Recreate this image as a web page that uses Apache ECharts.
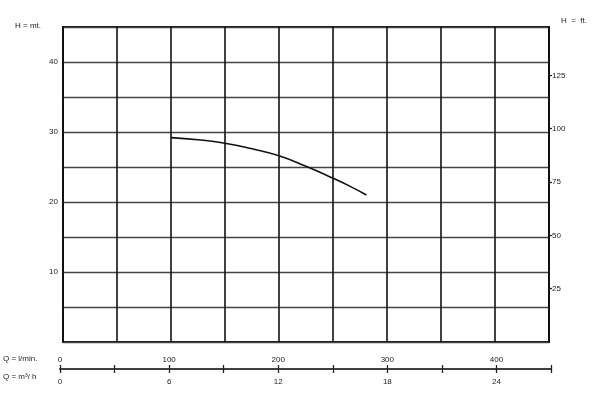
<!DOCTYPE html>
<html>
<head>
<meta charset="utf-8">
<script src="https://cdn.jsdelivr.net/npm/echarts@6/dist/echarts.min.js"></script>
<style>html,body{margin:0;padding:0;background:#fff}#c{width:600px;height:410px}</style>
</head>
<body>
<div id="c"></div>
<script>
// Data
const flowLmin = [100, 125, 150, 175, 200, 225, 250, 265, 281];
const headM    = [29.2, 28.9, 28.4, 27.6, 26.6, 25.1, 23.4, 22.3, 21.0];
const headTicksM = [10, 20, 30, 40];
const headTicksFt = [25, 50, 75, 100, 125];
const flowLabelsLmin = [0, 100, 200, 300, 400];
const flowLabelsM3h = [0, 6, 12, 18, 24];
const M_TO_FT = 3.28084;
const H_MAX = 45, Q_MAX = 450;

const font = 'Liberation Sans, Arial, sans-serif';
const chart = echarts.init(document.getElementById('c'), null, {renderer: 'canvas'});
chart.setOption({
  animation: false,
  backgroundColor: '#fff',
  textStyle: {fontFamily: font},
  grid: [
    {left: 63, right: 51, top: 27, bottom: 68, show: true, borderColor: '#111', borderWidth: 2, backgroundColor: 'transparent'},
    {left: 60, right: 49, top: 369, height: 0}
  ],
  xAxis: [
    {gridIndex: 0, type: 'value', min: 0, max: Q_MAX, interval: 50,
     axisLine: {show: false}, axisTick: {show: false}, axisLabel: {show: false},
     splitLine: {show: true, lineStyle: {color: '#111', width: 1.6}}},
    {gridIndex: 1, type: 'value', position: 'top', min: 0, max: Q_MAX, interval: 50,
     axisLine: {show: true, onZero: false, lineStyle: {color: '#333', width: 1.5}},
     axisTick: {show: true, length: 4, lineStyle: {color: '#222', width: 1.3}},
     axisLabel: {show: true, margin: 5, fontSize: 8, color: '#222', fontFamily: font,
       formatter: v => flowLabelsLmin.includes(v) ? String(v) : ''},
     splitLine: {show: false}},
    {gridIndex: 1, type: 'value', position: 'bottom', min: 0, max: Q_MAX * 0.06, interval: 3,
     axisLine: {show: true, onZero: false, lineStyle: {color: '#333', width: 1.5}},
     axisTick: {show: true, length: 4, lineStyle: {color: '#222', width: 1.3}},
     axisLabel: {show: true, margin: 9, fontSize: 8, color: '#222', fontFamily: font,
       formatter: v => flowLabelsM3h.includes(v) ? String(v) : ''},
     splitLine: {show: false}}
  ],
  yAxis: [
    {gridIndex: 0, type: 'value', position: 'left', min: 0, max: H_MAX, interval: 5,
     axisLine: {show: false}, axisTick: {show: false},
     axisLabel: {show: true, margin: 5, fontSize: 8, color: '#222', fontFamily: font,
       formatter: v => headTicksM.includes(v) ? String(v) : ''},
     splitLine: {show: true, lineStyle: {color: '#444', width: 1.3}}},
    {gridIndex: 0, type: 'value', position: 'right', min: 0, max: H_MAX * M_TO_FT,
     axisLine: {show: false},
     axisTick: {show: true, length: 3, customValues: headTicksFt, lineStyle: {color: '#222', width: 1.3}},
     axisLabel: {show: true, margin: 3, fontSize: 8, color: '#222', fontFamily: font, customValues: headTicksFt},
     splitLine: {show: false}},
    {gridIndex: 1, type: 'value', show: false, min: 0, max: 1}
  ],
  graphic: [
    {type: 'text', left: 15, top: 22, style: {text: 'H = mt.', font: '8px ' + font, fill: '#222'}},
    {type: 'text', left: 561, top: 17, style: {text: 'H  =  ft.', font: '8px ' + font, fill: '#222'}},
    {type: 'text', left: 3, top: 355, style: {text: 'Q = l/min.', font: '8px ' + font, fill: '#222'}},
    {type: 'text', left: 3, top: 373, style: {text: 'Q = m³/ h', font: '8px ' + font, fill: '#222'}}
  ],
  series: [
    {type: 'line', xAxisIndex: 0, yAxisIndex: 0, smooth: true, symbol: 'none',
     lineStyle: {color: '#111', width: 1.6},
     data: flowLmin.map((q, i) => [q, headM[i]])}
  ]
});
</script>
</body>
</html>
